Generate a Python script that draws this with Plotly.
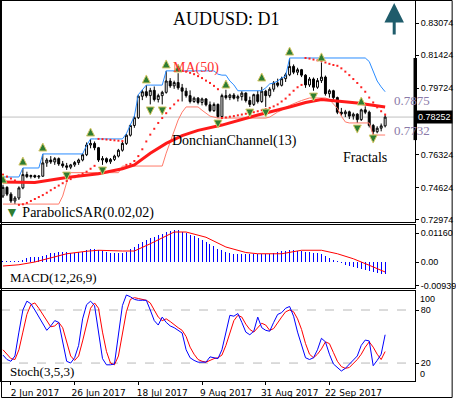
import plotly.graph_objects as go
from plotly.subplots import make_subplots

# ---------------- data ----------------
bar_idx = list(range(97))

opens = [.7420,.7465,.7430,.7395,.7410,.7462,.7530,.7520,.7525,.7518,
         .7522,.7590,.7605,.7595,.7612,.7585,.7575,.7568,.7580,.7592,
         .7605,.7632,.7682,.7690,.7668,.7605,.7612,.7596,.7608,.7625,
         .7655,.7690,.7732,.7782,.7822,.7932,.7955,.7935,.7962,.7915,
         .7935,.7952,.8010,.7985,.8002,.7975,.7958,.7935,.7905,.7922,
         .7900,.7918,.7888,.7858,.7890,.7828,.7935,.7925,.7938,.7922,
         .7930,.7948,.7910,.7890,.7940,.7905,.7958,.7935,.7968,.8000,
         .7988,.8022,.8042,.8085,.8055,.8068,.8040,.7990,.8020,.7978,
         .8012,.8030,.7945,.7960,.7925,.7850,.7842,.7852,.7830,.7840,
         .7812,.7862,.7850,.7782,.7750,.7768,.7780]
highs = [.7478,.7470,.7440,.7420,.7470,.7564,.7545,.7530,.7530,.7528,
         .7636,.7615,.7625,.7620,.7618,.7600,.7590,.7585,.7600,.7612,
         .7640,.7695,.7713,.7700,.7672,.7625,.7618,.7615,.7632,.7662,
         .7698,.7740,.7790,.7830,.7940,.7965,.7989,.7975,.7982,.7945,
         .7960,.8062,.8025,.8012,.8050,.7995,.7975,.7962,.7930,.7928,
         .7925,.7922,.7905,.7900,.7895,.7945,.7965,.7945,.7948,.7940,
         .7958,.7952,.7930,.7945,.7960,.7980,.7965,.7978,.8010,.8022,
         .8032,.8052,.8128,.8095,.8078,.8072,.8045,.8030,.8028,.8025,
         .8105,.8038,.7968,.7965,.7930,.7872,.7862,.7858,.7848,.7845,
         .7868,.7880,.7858,.7790,.7778,.7792,.7836]
lows = [.7410,.7420,.7385,.7379,.7400,.7455,.7512,.7510,.7512,.7508,
        .7518,.7570,.7585,.7580,.7575,.7565,.7554,.7558,.7570,.7580,
        .7598,.7625,.7665,.7655,.7595,.7580,.7588,.7585,.7600,.7618,
        .7648,.7682,.7725,.7770,.7815,.7912,.7925,.7890,.7905,.7900,
        .7890,.7945,.7975,.7970,.7965,.7905,.7925,.7895,.7898,.7890,
        .7885,.7880,.7850,.7852,.7820,.7822,.7915,.7912,.7915,.7905,
        .7910,.7900,.7877,.7882,.7895,.7898,.7877,.7925,.7955,.7978,
        .7982,.8005,.8035,.8045,.8040,.8030,.7975,.7980,.7960,.7970,
        .8000,.7935,.7925,.7915,.7840,.7832,.7825,.7815,.7812,.7795,
        .7805,.7840,.7772,.7733,.7742,.7752,.7772]
closes = [.7465,.7430,.7395,.7410,.7462,.7530,.7520,.7525,.7518,.7522,
          .7590,.7605,.7595,.7612,.7585,.7575,.7568,.7580,.7592,.7605,
          .7632,.7682,.7690,.7668,.7605,.7612,.7596,.7608,.7625,.7655,
          .7690,.7732,.7782,.7822,.7932,.7955,.7935,.7962,.7915,.7935,
          .7952,.8010,.7985,.8002,.7975,.7958,.7935,.7905,.7922,.7900,
          .7918,.7888,.7858,.7890,.7828,.7935,.7925,.7938,.7922,.7930,
          .7948,.7910,.7890,.7940,.7905,.7958,.7935,.7968,.8000,.7988,
          .8022,.8042,.8085,.8055,.8068,.8040,.7990,.8020,.7978,.8012,
          .8030,.7945,.7960,.7925,.7850,.7842,.7852,.7830,.7840,.7812,
          .7862,.7850,.7782,.7750,.7768,.7780,.7825]

ma_x = [0, 8, 16, 24, 30, 33, 37, 41, 45, 49, 55, 61, 64, 72, 76, 80, 84, 89, 96]
ma_y = [.7492, .7490, .7515, .7535, .7560, .7580, .7640, .7690, .7730, .7757,
        .7784, .7818, .7836, .7877, .7900, .7915, .7908, .7897, .7877]

donch_up = ([.7518]*5 + [.7564]*5 + [.7636]*11 + [.7680] + [.7713]*9 +
            [.7740, .7790, .7830, .7940, .7965] + [.7989]*5 + [.8062]*13 +
            [.8045, .8040, .8040, .8010, .7990] + [.7960]*7 +
            [.7975, .7995, .8000, .8010, .8025, .8035] + [.8128]*20 +
            [.8110, .8060, .8010, .7980, .7955])
donch_lo = ([.7379]*15 + [.7420, .7490] + [.7540]*13 + [.7574]*11 +
            [.7640, .7700, .7760, .7810, .7850] + [.7877]*4 +
            [.7860, .7845, .7830, .7825] + [.7820]*13 +
            [.7825, .7840, .7851, .7860, .7875, .7885, .7895, .7902, .7910, .7918] +
            [.7923]*5 + [.7915, .7890, .7870, .7830, .7800] + [.7795]*6 + [.7733]*4)

sar = [.7530, .7520, .7510, .7500,
       .7375, .7378, .7385, .7395, .7405, .7415, .7425, .7437, .7450, .7462,
       .7474, .7486, .7497, .7507, .7517, .7526, .7535, .7545, .7560, .7575,
       .7713, .7712, .7710, .7708, .7706, .7704, .7702,
       .7580, .7585, .7600, .7625, .7660, .7700, .7735, .7765, .7795, .7820,
       .7845, .7870, .7890, .7910,
       .8062, .8058, .8052, .8045, .8035, .8025, .8012, .8000, .7985, .7968,
       .7820, .7823, .7827, .7830, .7834, .7838, .7842, .7846, .7850, .7855,
       .7860, .7866, .7872, .7880, .7890, .7905, .7920, .7940, .7960, .7978, .7990,
       .8128, .8125, .8120, .8116, .8112, .8105, .8098, .8092, .8088, .8075,
       .8058, .8040, .8020, .8000, .7978, .7955, .7925, .7900, .7875, .7855, .7838]

frac_up_x = [0, 5, 10, 22, 36, 41, 44, 56, 65, 72, 80, 90]
frac_up_y = [.7528, .7620, .7692, .7769, .8041, .8118, .8097, .8015, .8051, .8184, .8154, .7928]
frac_dn_x = [16, 25, 37, 40, 54, 62, 66, 78, 89, 93]
frac_dn_y = [.7502, .7528, .7836, .7836, .7769, .7825, .7825, .7907, .7743, .7692]

macd = [.0005, .0005, .0004, .0004, .0005,
        .0010, .0015, .0019, .0020, .0022, .0026, .0030,
        .0035, .0038, .0040, .0040, .0039, .0038, .0038, .0039, .0041,
        .0047, .0051, .0052, .0048,
        .0043, .0039, .0036, .0035, .0035, .0037, .0042,
        .0052, .0061, .0072, .0082, .0090, .0097, .0102, .0108, .0113, .0120,
        .0126, .0128, .0127, .0122,
        .0116, .0110, .0103, .0096, .0089, .0081, .0072, .0063, .0054, .0048, .0042,
        .0036, .0034, .0033, .0032, .0032, .0031, .0031, .0032, .0033, .0033, .0034,
        .0036, .0040, .0043,
        .0046, .0047, .0047, .0046, .0044, .0042,
        .0040, .0038, .0035, .0031, .0026,
        .0018, .0010, .0004, -.0002, -.0010, -.0016, -.0020, -.0025, -.0028,
        -.0031, -.0035, -.0040, -.0045, -.0048, -.0046]
sig_x = [0, 4, 8, 12, 16, 21, 24, 30, 33, 37, 43, 46, 51, 56, 61, 64, 70, 75, 80, 84, 88, 92, 96]
sig_y = [-.0016, -.0011, .0000, .0015, .0033, .0043, .0047, .0044, .0044, .0073, .0120,
         .0120, .0099, .0060, .0038, .0033, .0033, .0047, .0047, .0033, .0013, -.0013, -.0040]

stoch_k = [29,24,22,28,55,80,90,87,80,72, 64,57,62,68,66,45,22,20,26,40,
           70,86,90,85,55,25,18,18,19,50, 85,97,95,92,91,91,91,80,68,63,
           72,66,62,60,57,54,35,26,23,21, 21,21,27,26,25,35,55,74,73,76,
           66,55,52,56,72,60,57,56,66,75, 77,82,84,73,55,40,26,24,26,35,
           48,44,30,19,15,11,14,19,24,28, 40,46,45,17,23,30,52]
stoch_d = [35,30,25,24,35,55,75,86,88,82, 75,68,61,62,66,60,44,28,23,28,
           45,65,82,88,82,55,33,20,18,28, 52,78,92,94,93,92,91,88,80,72,
           68,70,67,63,60,57,50,38,30,24, 22,21,23,25,26,29,40,55,68,74,
           72,64,58,55,60,65,63,57,59,66, 72,78,80,78,70,58,42,30,26,30,
           36,44,42,32,22,16,14,15,19,24, 30,38,44,38,30,24,33]

price_ticks = [0.83074, 0.81424, 0.79724, 0.76324, 0.74624, 0.72974]
macd_ticks = [0.0116, 0.0, -0.00939]
macd_ticktext = ["0.01160", "0.00", "-0.00939"]
date_tick_idx = [2, 18, 34, 50, 66, 82]
date_tick_text = ["2 Jun 2017", "26 Jun 2017", "18 Jul 2017", "9 Aug 2017", "31 Aug 2017", "22 Sep 2017"]
last_price = 0.78252
ma_last = 0.7875
donch_last = 0.7732

# ---------------- figure ----------------
W, H = 456, 398
L, R, T, B = 0, 38, 1, 17
PW, PH = W - L - R, H - T - B

def py(p):  # pixel y -> paper y
    return (H - B - p) / PH

def px(p):
    return (p - L) / PW

fig = make_subplots(rows=3, cols=1, shared_xaxes=True, vertical_spacing=0)

fig.add_trace(go.Scatter(x=bar_idx, y=donch_up, mode="lines",
                         line=dict(color="#2a8cff", width=1)), row=1, col=1)
fig.add_trace(go.Scatter(x=bar_idx, y=donch_lo, mode="lines",
                         line=dict(color="#ff7a6a", width=1)), row=1, col=1)
fig.add_trace(go.Scatter(x=ma_x, y=ma_y, mode="lines",
                         line=dict(color="#ff1a1a", width=3)), row=1, col=1)
fig.add_trace(go.Scatter(x=bar_idx, y=sar, mode="markers",
                         marker=dict(symbol="square", size=2, color="#ff2020")), row=1, col=1)
fig.add_trace(go.Candlestick(x=bar_idx, open=opens, high=highs, low=lows, close=closes,
                             increasing=dict(line=dict(color="black", width=1), fillcolor="white"),
                             decreasing=dict(line=dict(color="black", width=1), fillcolor="black"),
                             whiskerwidth=0), row=1, col=1)
fig.add_trace(go.Scatter(x=frac_up_x, y=frac_up_y, mode="markers",
                         marker=dict(symbol="arrow-up", size=8, color="#2e7d32",
                                     line=dict(color="#d6c86a", width=1))), row=1, col=1)
fig.add_trace(go.Scatter(x=frac_dn_x, y=frac_dn_y, mode="markers",
                         marker=dict(symbol="arrow-down", size=8, color="#2e7d32",
                                     line=dict(color="#d6c86a", width=1))), row=1, col=1)

fig.add_trace(go.Bar(x=bar_idx, y=macd, width=0.25, marker=dict(color="#0000ff", line=dict(width=0))),
              row=2, col=1)
fig.add_trace(go.Scatter(x=sig_x, y=sig_y, mode="lines", line=dict(color="#ff0000", width=1)),
              row=2, col=1)

fig.add_trace(go.Scatter(x=bar_idx, y=stoch_d, mode="lines", line=dict(color="#ff0000", width=1)),
              row=3, col=1)
fig.add_trace(go.Scatter(x=bar_idx, y=stoch_k, mode="lines", line=dict(color="#0000ff", width=1)),
              row=3, col=1)

axis_common = dict(showline=True, mirror=True, linecolor="black", linewidth=1,
                   showgrid=False, zeroline=False)
tickfont = dict(family="Liberation Sans", size=9, color="black")
fig.update_xaxes(range=[-0.5, 103.5], **axis_common)
fig.update_xaxes(showticklabels=False, ticks="", row=1, col=1)
fig.update_xaxes(showticklabels=False, ticks="", row=2, col=1)
fig.update_xaxes(tickmode="array", tickvals=date_tick_idx, ticktext=date_tick_text,
                 ticks="outside", ticklen=3, tickcolor="black",
                 tickfont=dict(family="DejaVu Sans", size=9, color="black"),
                 ticklabelshift=24, row=3, col=1)
fig.update_xaxes(rangeslider_visible=False)

ytick = dict(side="right", ticks="outside", ticklen=3, tickcolor="black", tickfont=tickfont)
fig.update_yaxes(domain=[py(222), 1.0], range=[0.72871, 0.84202],
                 tickmode="array", tickvals=price_ticks,
                 ticktext=[f"{v:.5f}" for v in price_ticks], **ytick, **axis_common, row=1, col=1)
fig.update_yaxes(domain=[py(288), py(225)], range=[-0.0104, 0.0148],
                 tickmode="array", tickvals=macd_ticks, ticktext=macd_ticktext,
                 **ytick, **axis_common, row=2, col=1)
fig.update_yaxes(domain=[0, py(291)], range=[-0.3, 101.5],
                 tickmode="array", tickvals=[80, 20], ticktext=["80", "20"],
                 **ytick, **axis_common, row=3, col=1)

shapes = [
    dict(type="line", xref="x domain", x0=0, x1=1, yref="y", y0=last_price, y1=last_price,
         line=dict(color="#c0c0c0", width=1), layer="below"),
    dict(type="line", xref="x3 domain", x0=0, x1=1, yref="y3", y0=80, y1=80,
         line=dict(color="#b8b8b8", width=1, dash="dash"), layer="below"),
    dict(type="line", xref="x3 domain", x0=0, x1=1, yref="y3", y0=20, y1=20,
         line=dict(color="#b8b8b8", width=1, dash="dash"), layer="below"),
    dict(type="rect", xref="paper", x0=px(416.5), x1=px(420), yref="y", y0=0.7707, y1=0.8128,
         fillcolor="black", line=dict(width=0)),
    dict(type="rect", xref="paper", x0=px(0.5), x1=px(455.5), yref="paper", y0=py(397.5), y1=py(0.5),
         line=dict(color="black", width=1)),
]

serif = "Liberation Serif"
ann = [
    dict(text="AUDUSD: D1", x=px(228), y=py(19), xanchor="center", yanchor="middle",
         font=dict(family=serif, size=18, color="black")),
    dict(text="MA(50)", x=px(172), y=py(68), xanchor="left", yanchor="middle",
         font=dict(family=serif, size=14, color="#ff3030")),
    dict(text="DonchianChannel(13)", x=px(171), y=py(141), xanchor="left", yanchor="middle",
         font=dict(family=serif, size=14, color="black")),
    dict(text="Fractals", x=px(343), y=py(158), xanchor="left", yanchor="middle",
         font=dict(family=serif, size=14, color="black")),
    dict(text="<span style='color:#2e7d32'>▼</span> ParabolicSAR(0.02,02)", x=px(2), y=py(213),
         xanchor="left", yanchor="middle", font=dict(family=serif, size=14, color="black")),
    dict(text=f"{ma_last:.4f}", x=px(395), y=py(100), xanchor="left", yanchor="middle",
         font=dict(family=serif, size=13, color="#8a7aa8")),
    dict(text=f"{donch_last:.4f}", x=px(395), y=py(131), xanchor="left", yanchor="middle",
         font=dict(family=serif, size=13, color="#8a7aa8")),
    dict(text="MACD(12,26,9)", x=px(7), y=py(277), xanchor="left", yanchor="middle",
         font=dict(family=serif, size=13, color="black")),
    dict(text="Stoch(3,5,3)", x=px(7), y=py(371), xanchor="left", yanchor="middle",
         font=dict(family=serif, size=13, color="black")),
    dict(text="100", x=px(421), y=py(299), xanchor="left", yanchor="middle", font=tickfont),
    dict(text="0", x=px(421), y=py(374), xanchor="left", yanchor="middle", font=tickfont),
    dict(text=f"{last_price:.5f}", x=px(419), y=last_price, yref="y", xanchor="left", yanchor="middle",
         bgcolor="black", borderpad=1, font=dict(family="Liberation Sans", size=9, color="white")),
    dict(text="", x=px(397), y=py(3), showarrow=True, ax=0, ay=33, arrowhead=2,
         arrowsize=1.3, arrowwidth=3, arrowcolor="#1f5c6b"),
]
for a in ann:
    a.setdefault("xref", "paper")
    a.setdefault("yref", "paper")
    a.setdefault("showarrow", False)

fig.update_layout(width=W, height=H, margin=dict(l=L, r=R, t=T, b=B),
                  plot_bgcolor="white", paper_bgcolor="white", showlegend=False,
                  hovermode=False, bargap=0, shapes=shapes, annotations=ann)

fig.write_html("out.html", config={"displayModeBar": False, "staticPlot": True},
               post_script="document.body.style.margin='0';")
